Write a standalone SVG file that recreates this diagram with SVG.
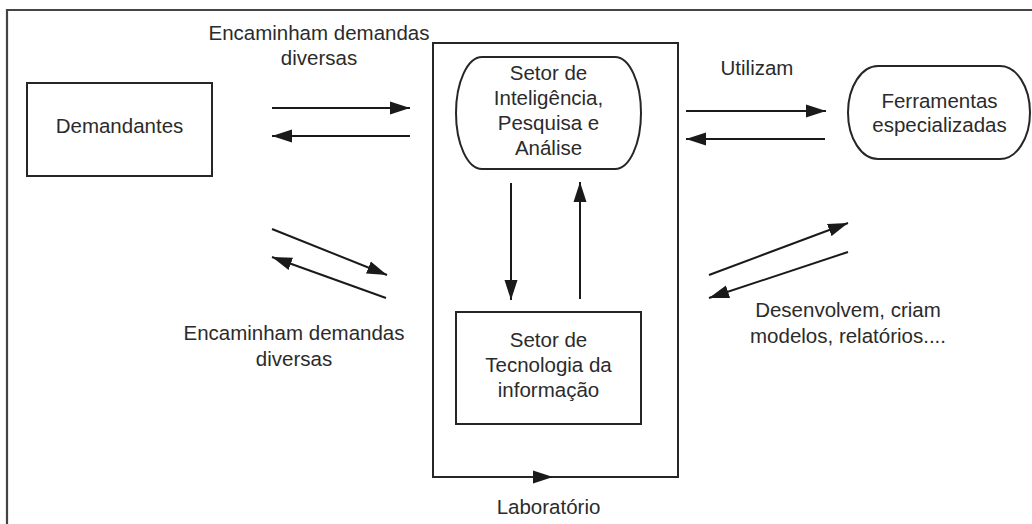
<svg xmlns="http://www.w3.org/2000/svg" width="1032" height="524" viewBox="0 0 1032 524">
<style>
  .shape { fill: #ffffff; stroke: #262626; stroke-width: 2; }
  .frame { fill: none; stroke: #444444; stroke-width: 2.2; }
  .lbl { font-family: "Liberation Sans", Arial, sans-serif; font-size: 20.5px; fill: #2b2b2b; text-anchor: middle; }
  .conn { fill: none; stroke: #1a1a1a; stroke-width: 2; marker-end: url(#arrow); }
</style>
<defs>
  <marker id="arrow" markerUnits="userSpaceOnUse" markerWidth="20" markerHeight="14" refX="20" refY="7" orient="auto">
    <path d="M0,0.5 L20,7 L0,13.5 z" fill="#1a1a1a"/>
  </marker>
</defs>
<rect width="1032" height="524" fill="#ffffff"/>
<path class="frame" d="M7,524 V10 H1032"/>

<g id="laboratorio">
  <rect class="shape" x="433" y="43" width="245" height="434" fill="none"/>
  <polygon points="533,470.5 553,477 533,483.5" fill="#1a1a1a"/>
  <text class="lbl" x="548.5" y="514">Laboratório</text>
</g>

<g id="demandantes">
  <rect class="shape" x="27" y="83" width="185" height="93"/>
  <text class="lbl" x="119.5" y="133">Demandantes</text>
</g>

<g id="setor-inteligencia">
  <rect class="shape" x="456" y="57" width="185" height="112" rx="26" ry="56"/>
  <text class="lbl" x="548.5" y="80">Setor de</text>
  <text class="lbl" x="548.5" y="105">Inteligência,</text>
  <text class="lbl" x="548.5" y="130">Pesquisa e</text>
  <text class="lbl" x="548.5" y="155">Análise</text>
</g>

<g id="setor-ti">
  <rect class="shape" x="456" y="312" width="185" height="112"/>
  <text class="lbl" x="548.5" y="347">Setor de</text>
  <text class="lbl" x="548.5" y="372">Tecnologia da</text>
  <text class="lbl" x="548.5" y="397">informação</text>
</g>

<g id="ferramentas">
  <rect class="shape" x="848" y="66" width="182" height="93" rx="30" ry="46.5"/>
  <text class="lbl" x="939.5" y="108">Ferramentas</text>
  <text class="lbl" x="939.5" y="132">especializadas</text>
</g>

<g id="connectors">
  <line class="conn" x1="272" y1="108" x2="410" y2="108"/>
  <line class="conn" x1="410" y1="136" x2="272" y2="136"/>
  <line class="conn" x1="272" y1="229" x2="387" y2="275"/>
  <line class="conn" x1="386" y1="298" x2="272" y2="257"/>
  <line class="conn" x1="686" y1="111" x2="826" y2="111"/>
  <line class="conn" x1="825" y1="139" x2="686" y2="139"/>
  <line class="conn" x1="511" y1="183" x2="511" y2="300"/>
  <line class="conn" x1="580" y1="299" x2="580" y2="182"/>
  <line class="conn" x1="709" y1="275" x2="848" y2="223"/>
  <line class="conn" x1="848" y1="252" x2="709" y2="298"/>
</g>

<g id="labels">
  <text class="lbl" x="319" y="40">Encaminham demandas</text>
  <text class="lbl" x="319" y="65">diversas</text>
  <text class="lbl" x="757" y="75">Utilizam</text>
  <text class="lbl" x="294" y="340">Encaminham demandas</text>
  <text class="lbl" x="294" y="366">diversas</text>
  <text class="lbl" x="848" y="317">Desenvolvem, criam</text>
  <text class="lbl" x="848" y="343">modelos, relatórios....</text>
</g>
</svg>
